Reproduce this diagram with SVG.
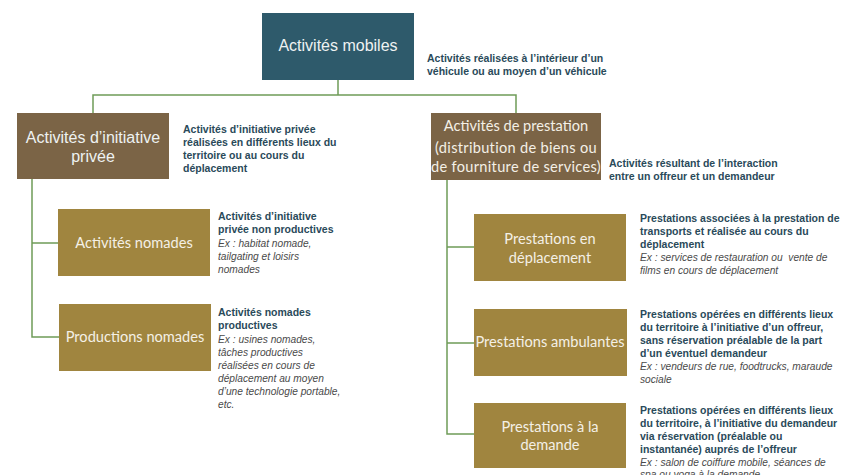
<svg xmlns="http://www.w3.org/2000/svg" width="841" height="475" viewBox="0 0 841 475">
  <style>
    .teal { fill: #2e5a6b; }
    .brown { fill: #7b6446; }
    .gold { fill: #a0853f; }
    .lbl-a { font-family: "Liberation Sans", Arial, sans-serif; font-size: 16px; fill: #eef2f2; text-anchor: middle; }
    .lbl-c { font-family: Lato, "Open Sans", sans-serif; font-size: 14.6px; fill: #f4f0e6; text-anchor: middle; }
    .wide { letter-spacing: 0.3px; }
    .desc { font-family: "Liberation Sans", Arial, sans-serif; font-size: 10.5px; font-weight: bold; fill: #2a4a5a; }
    .ex { font-family: "Liberation Sans", Arial, sans-serif; font-size: 10.2px; font-style: italic; font-weight: normal; fill: #4a4a4a; }
    .conn { fill: none; stroke: #6f9c58; stroke-width: 1.5; }
  </style>
  <rect width="841" height="475" fill="#ffffff"/>

  <!-- connectors -->
  <g id="connectors">
    <path class="conn" d="M338 80 V95 M93 113 V95 H516 V113"/>
    <path class="conn" d="M32 179 V337 H59 M32 243 H58"/>
    <path class="conn" d="M447 180 V434 H474 M447 247 H474 M447 343 H474"/>
  </g>

  <!-- root -->
  <g id="activites-mobiles">
    <rect class="teal" x="262" y="13" width="152" height="67"/>
    <text class="lbl-a" x="338" y="51">Activités mobiles</text>
    <text class="desc" x="427" y="62">Activités réalisées à l’intérieur d’un</text>
    <text class="desc" x="427" y="75">véhicule ou au moyen d’un véhicule</text>
  </g>

  <!-- level 1 -->
  <g id="initiative-privee">
    <rect class="brown" x="17" y="113" width="152" height="66"/>
    <text class="lbl-a" x="93" y="143">Activités d’initiative</text>
    <text class="lbl-a" x="93" y="162">privée</text>
    <text class="desc" x="183" y="133">Activités d’initiative privée</text>
    <text class="desc" x="183" y="146">réalisées en différents lieux du</text>
    <text class="desc" x="183" y="159">territoire ou au cours du</text>
    <text class="desc" x="183" y="172">déplacement</text>
  </g>

  <g id="prestation">
    <rect class="brown" x="431" y="113" width="170" height="67"/>
    <text class="lbl-c" x="516" y="131">Activités de prestation</text>
    <text class="lbl-c wide" x="516" y="153">(distribution de biens ou</text>
    <text class="lbl-c wide" x="516" y="172">de fourniture de services)</text>
    <text class="desc" x="609" y="167">Activités résultant de l’interaction</text>
    <text class="desc" x="609" y="180">entre un offreur et un demandeur</text>
  </g>

  <!-- level 2, left -->
  <g id="activites-nomades">
    <rect class="gold" x="58" y="209" width="152" height="67"/>
    <text class="lbl-c" x="134" y="248">Activités nomades</text>
    <text class="desc" x="218" y="220">Activités d’initiative</text>
    <text class="desc" x="218" y="233">privée non productives</text>
    <text class="ex" x="218" y="247">Ex : habitat nomade,</text>
    <text class="ex" x="218" y="260">tailgating et loisirs</text>
    <text class="ex" x="218" y="273">nomades</text>
  </g>

  <g id="productions-nomades">
    <rect class="gold" x="59" y="304" width="152" height="67"/>
    <text class="lbl-c" x="135" y="342">Productions nomades</text>
    <text class="desc" x="218" y="316">Activités nomades</text>
    <text class="desc" x="218" y="329">productives</text>
    <text class="ex" x="218" y="343">Ex : usines nomades,</text>
    <text class="ex" x="218" y="356">tâches productives</text>
    <text class="ex" x="218" y="369">réalisées en cours de</text>
    <text class="ex" x="218" y="382">déplacement au moyen</text>
    <text class="ex" x="218" y="395">d’une technologie portable,</text>
    <text class="ex" x="218" y="408">etc.</text>
  </g>

  <!-- level 2, right -->
  <g id="prestations-deplacement">
    <rect class="gold" x="474" y="214" width="152" height="67"/>
    <text class="lbl-c" x="550" y="244">Prestations en</text>
    <text class="lbl-c" x="550" y="263">déplacement</text>
    <text class="desc" x="640" y="222">Prestations associées à la prestation de</text>
    <text class="desc" x="640" y="235">transports et réalisée au cours du</text>
    <text class="desc" x="640" y="248">déplacement</text>
    <text class="ex" x="640" y="261" xml:space="preserve">Ex : services de restauration ou  vente de</text>
    <text class="ex" x="640" y="274">films en cours de déplacement</text>
  </g>

  <g id="prestations-ambulantes">
    <rect class="gold" x="474" y="309" width="153" height="67"/>
    <text class="lbl-c" x="550" y="347">Prestations ambulantes</text>
    <text class="desc" x="640" y="318">Prestations opérées en différents lieux</text>
    <text class="desc" x="640" y="331">du territoire à l’initiative d’un offreur,</text>
    <text class="desc" x="640" y="344">sans réservation préalable de la part</text>
    <text class="desc" x="640" y="357">d’un éventuel demandeur</text>
    <text class="ex" x="640" y="370">Ex : vendeurs de rue, foodtrucks, maraude</text>
    <text class="ex" x="640" y="383">sociale</text>
  </g>

  <g id="prestations-demande">
    <rect class="gold" x="474" y="403" width="152" height="65"/>
    <text class="lbl-c" x="550" y="432">Prestations à la</text>
    <text class="lbl-c" x="550" y="450">demande</text>
    <text class="desc" x="640" y="414">Prestations opérées en différents lieux</text>
    <text class="desc" x="640" y="427">du territoire, à l’initiative du demandeur</text>
    <text class="desc" x="640" y="440">via réservation (préalable ou</text>
    <text class="desc" x="640" y="453">instantanée) auprés de l’offreur</text>
    <text class="ex" x="640" y="466">Ex : salon de coiffure mobile, séances de</text>
    <text class="ex" x="640" y="478">spa ou yoga à la demande</text>
  </g>
</svg>
